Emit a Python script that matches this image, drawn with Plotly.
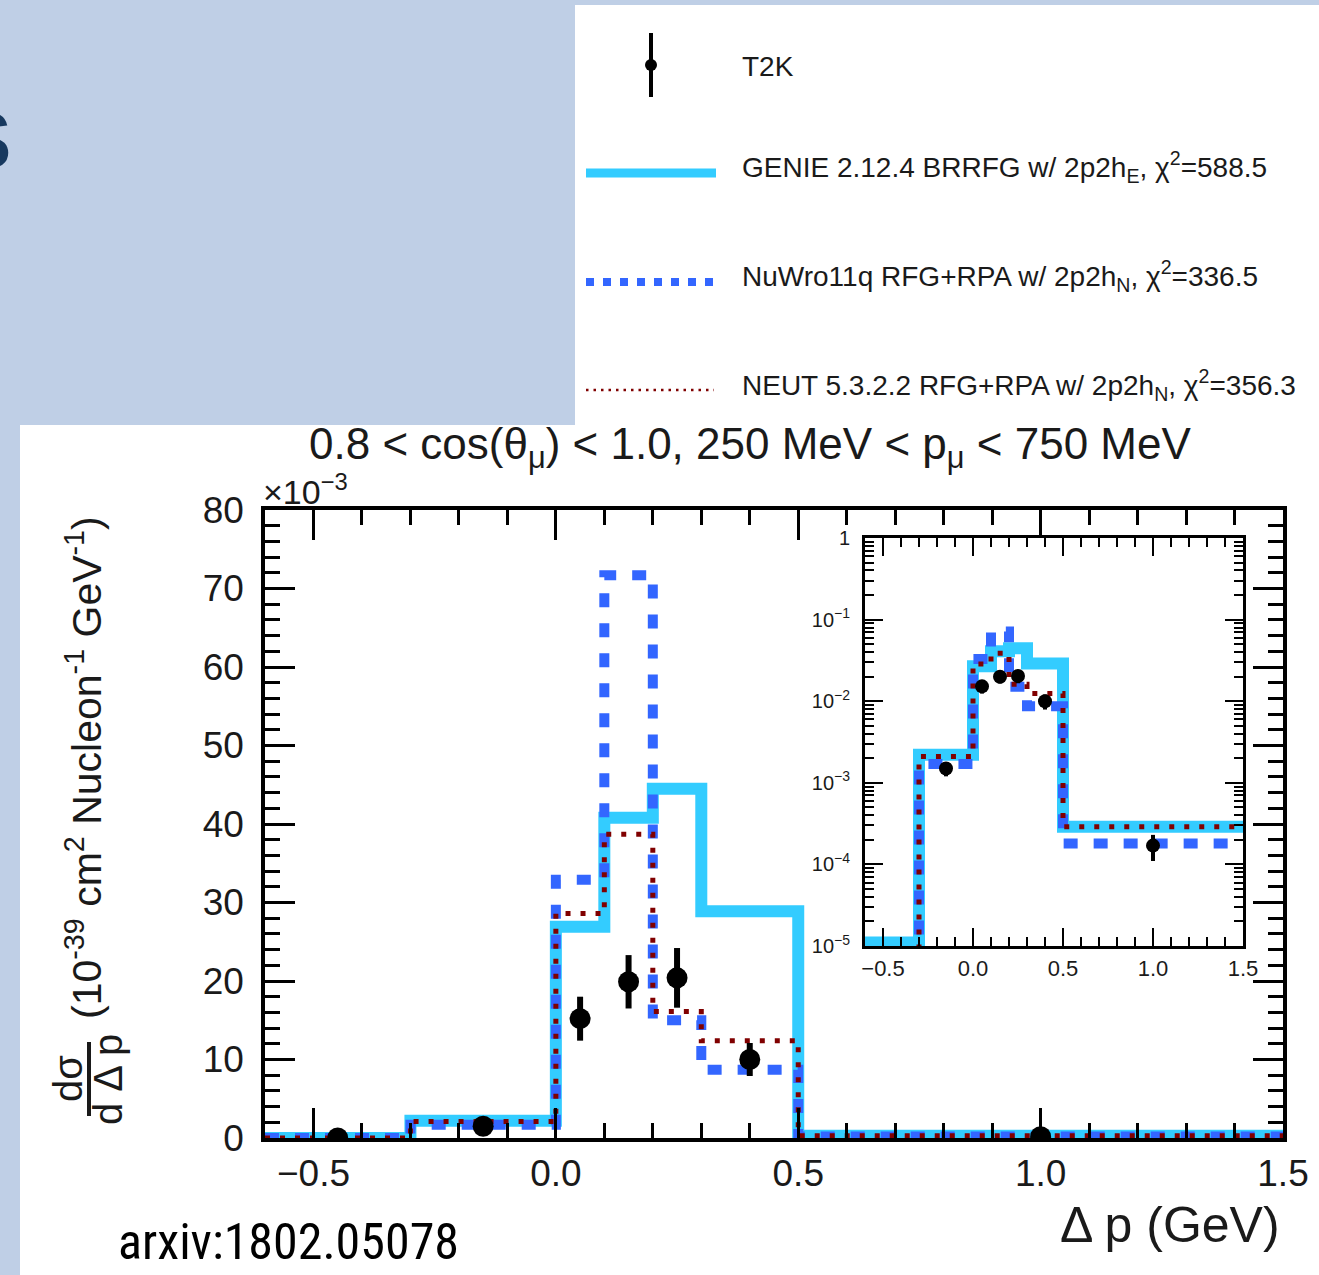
import plotly.graph_objects as go

W, H = 1319, 1275

# ---------------- data ----------------
bin_edges = [-0.6, -0.3, 0.0, 0.1, 0.2, 0.3, 0.5, 1.5]
bin_centers = [-0.45, -0.15, 0.05, 0.15, 0.25, 0.4, 1.0]
t2k_values = [0.005, 1.5, 15.2, 19.9, 20.4, 10.0, 0.17]
t2k_errors = [0.0, 0.3, 2.8, 3.4, 3.8, 2.1, 0.06]
genie_values = [0.011, 2.2, 26.9, 40.8, 44.5, 28.9, 0.29]
nuwro_values = [0.005, 1.7, 32.9, 71.7, 15.0, 8.7, 0.18]
neut_values = [0.005, 2.1, 28.6, 38.7, 16.1, 12.4, 0.29]

legend_labels = [
    "T2K",
    "GENIE 2.12.4 BRRFG w/ 2p2h<sub>E</sub>, χ<sup>2</sup>=588.5",
    "NuWro11q RFG+RPA w/ 2p2h<sub>N</sub>, χ<sup>2</sup>=336.5",
    "NEUT 5.3.2.2 RFG+RPA w/ 2p2h<sub>N</sub>, χ<sup>2</sup>=356.3",
]
main_x_ticks = [-0.5, 0.0, 0.5, 1.0, 1.5]
main_y_ticks = [0, 10, 20, 30, 40, 50, 60, 70, 80]
inset_y_ticks = [1e-5, 1e-4, 1e-3, 1e-2, 1e-1, 1]
inset_y_text = ["10<sup>−5</sup>", "10<sup>−4</sup>", "10<sup>−3</sup>",
                "10<sup>−2</sup>", "10<sup>−1</sup>", "1"]
scale_to_abs = 1e-3  # the ×10^-3 factor of the main axis

CYAN = "#33CCFF"
BLUE = "#3366FF"
MAROON = "#800000"
FONT = "Liberation Sans, Arial, Helvetica, sans-serif"


def px(x):
    return x / W


def py(y):
    return 1 - y / H


def step_y(vals):
    return list(vals) + [vals[-1]]


fig = go.Figure()

series = [
    (genie_values, CYAN, 12, "solid"),
    (nuwro_values, BLUE, 10, "14px,16px"),
    (neut_values, MAROON, 5, "5px,10px"),
]

# main panel
for vals, col, wd, dash in series:
    fig.add_trace(go.Scatter(
        x=bin_edges, y=step_y(vals), mode="lines", line_shape="hv",
        line=dict(color=col, width=wd, dash=dash),
        xaxis="x", yaxis="y", showlegend=False, hoverinfo="skip"))
fig.add_trace(go.Scatter(
    x=bin_centers, y=t2k_values, mode="markers",
    marker=dict(color="black", size=21),
    error_y=dict(type="data", array=t2k_errors, color="black", thickness=6, width=0),
    xaxis="x", yaxis="y", showlegend=False))

# inset (log scale, absolute units)
for vals, col, wd, dash in series:
    fig.add_trace(go.Scatter(
        x=bin_edges, y=[v * scale_to_abs for v in step_y(vals)], mode="lines",
        line_shape="hv", line=dict(color=col, width=wd, dash=dash),
        xaxis="x2", yaxis="y2", showlegend=False, hoverinfo="skip"))
fig.add_trace(go.Scatter(
    x=bin_centers, y=[v * scale_to_abs for v in t2k_values], mode="markers",
    marker=dict(color="black", size=14),
    error_y=dict(type="data", array=[e * scale_to_abs for e in t2k_errors],
                 color="black", thickness=4, width=0),
    xaxis="x2", yaxis="y2", showlegend=False))

axis_common = dict(showgrid=False, zeroline=False, showline=True, linecolor="black",
                   mirror="ticks", ticks="inside", tickcolor="black", automargin=False)

minor_log = [m * 10 ** e for e in range(-5, 0) for m in range(2, 10)]

fig.update_layout(
    width=W, height=H,
    autosize=False,
    margin=dict(l=0, r=0, t=0, b=0, pad=0, autoexpand=False),
    paper_bgcolor="#BFCFE6",
    plot_bgcolor="white",
    font=dict(family=FONT, color="#1a1a1a"),
    xaxis=dict(domain=[px(265), px(1283)], range=[-0.6, 1.5], anchor="y",
               tickvals=main_x_ticks, tickformat=".1f", ticklen=30, tickwidth=2.5,
               linewidth=3.5, minor=dict(dtick=0.1, tick0=0, ticklen=15, tickwidth=2.5,
                                         ticks="inside", tickcolor="black"),
               tickfont=dict(size=37), ticklabelstandoff=0, **axis_common),
    yaxis=dict(domain=[py(1138), py(510)], range=[0, 80], anchor="x",
               tickvals=main_y_ticks, ticklen=30, tickwidth=2.5, linewidth=3.5,
               minor=dict(dtick=2, tick0=0, ticklen=15, tickwidth=2.5,
                          ticks="inside", tickcolor="black"),
               tickfont=dict(size=37), ticklabelstandoff=10, **axis_common),
    xaxis2=dict(domain=[px(865), px(1243)], range=[-0.6, 1.5], anchor="y2",
                tickvals=main_x_ticks, tickformat=".1f", ticklen=18, tickwidth=2,
                linewidth=3, minor=dict(dtick=0.1, tick0=0, ticklen=9, tickwidth=2,
                                        ticks="inside", tickcolor="black"),
                tickfont=dict(size=22), ticklabelstandoff=1, **axis_common),
    yaxis2=dict(domain=[py(946), py(538)], type="log", range=[-5, 0], anchor="x2",
                tickvals=inset_y_ticks, ticktext=inset_y_text, ticklen=18, tickwidth=2,
                linewidth=3, minor=dict(tickvals=minor_log, ticklen=9, tickwidth=2,
                                        ticks="inside", tickcolor="black"),
                tickfont=dict(size=20), ticklabelstandoff=8, **axis_common),
)

shapes = [
    # white slide panels
    dict(type="rect", xref="paper", yref="paper", x0=px(20), x1=1, y0=0, y1=py(425),
         fillcolor="white", line_width=0, layer="below"),
    dict(type="rect", xref="paper", yref="paper", x0=px(575), x1=1, y0=py(425), y1=py(5),
         fillcolor="white", line_width=0, layer="below"),
    # legend symbols
    dict(type="line", xref="paper", yref="paper", x0=px(651), x1=px(651), y0=py(33), y1=py(97),
         line=dict(color="black", width=4)),
    dict(type="circle", xref="paper", yref="paper", x0=px(645), x1=px(657), y0=py(71), y1=py(59),
         fillcolor="black", line_width=0),
    dict(type="line", xref="paper", yref="paper", x0=px(586), x1=px(716), y0=py(173), y1=py(173),
         line=dict(color=CYAN, width=9)),
    dict(type="line", xref="paper", yref="paper", x0=px(586), x1=px(720), y0=py(282), y1=py(282),
         line=dict(color=BLUE, width=8, dash="8px,9px")),
    dict(type="line", xref="paper", yref="paper", x0=px(586), x1=px(714), y0=py(390), y1=py(390),
         line=dict(color=MAROON, width=2.5, dash="2.5px,5px")),
    # fraction bar of y title
    dict(type="line", xref="paper", yref="paper", x0=px(89), x1=px(89), y0=py(1042), y1=py(1116),
         line=dict(color="#1a1a1a", width=4)),
]
fig.update_layout(shapes=shapes)

ann = []
legend_y = [67, 167, 276, 385]
for lab, yy in zip(legend_labels, legend_y):
    ann.append(dict(text=lab, x=px(740), y=py(yy), xref="paper", yref="paper",
                    xanchor="left", yanchor="middle", showarrow=False,
                    font=dict(size=28, family=FONT, color="#1a1a1a")))
ann += [
    dict(text="0.8 < cos(θ<sub>μ</sub>) < 1.0, 250 MeV < p<sub>μ</sub> < 750 MeV",
         x=px(750), y=py(447), xref="paper", yref="paper", xanchor="center",
         yanchor="middle", showarrow=False, font=dict(size=44, family=FONT, color="#1a1a1a")),
    dict(text="×10<sup>−3</sup>", x=px(261), y=py(490), xref="paper", yref="paper",
         xanchor="left", yanchor="middle", showarrow=False,
         font=dict(size=34, family=FONT, color="#1a1a1a")),
    dict(text="Δ p (GeV)", x=px(1282), y=py(1225), xref="paper", yref="paper",
         xanchor="right", yanchor="middle", showarrow=False,
         font=dict(size=50, family=FONT, color="#1a1a1a")),
    dict(text="(10<sup>-39</sup> cm<sup>2</sup> Nucleon<sup>-1</sup> GeV<sup>-1</sup>)",
         x=px(84), y=py(768), xref="paper", yref="paper", textangle=-90,
         xanchor="center", yanchor="middle", showarrow=False,
         font=dict(size=41, family=FONT, color="#1a1a1a")),
    dict(text="dσ", x=px(68), y=py(1079), xref="paper", yref="paper", textangle=-90,
         xanchor="center", yanchor="middle", showarrow=False,
         font=dict(size=40, family=FONT, color="#1a1a1a")),
    dict(text="d Δ p", x=px(108), y=py(1079), xref="paper", yref="paper", textangle=-90,
         xanchor="center", yanchor="middle", showarrow=False,
         font=dict(size=40, family=FONT, color="#1a1a1a")),
    dict(text="arxiv:1802.05078", x=px(116), y=py(1242), xref="paper", yref="paper",
         xanchor="left", yanchor="middle", showarrow=False,
         font=dict(size=50, family="Liberation Sans Narrow, Roboto Condensed, Arial Narrow, sans-serif",
                   color="black")),
    dict(text="s", x=px(14), y=py(132), xref="paper", yref="paper",
         xanchor="right", yanchor="middle", showarrow=False,
         font=dict(size=104, family=FONT, color="#17395F")),
]
fig.update_layout(annotations=ann)

fig.write_html("out.html", config={"displayModeBar": False})
